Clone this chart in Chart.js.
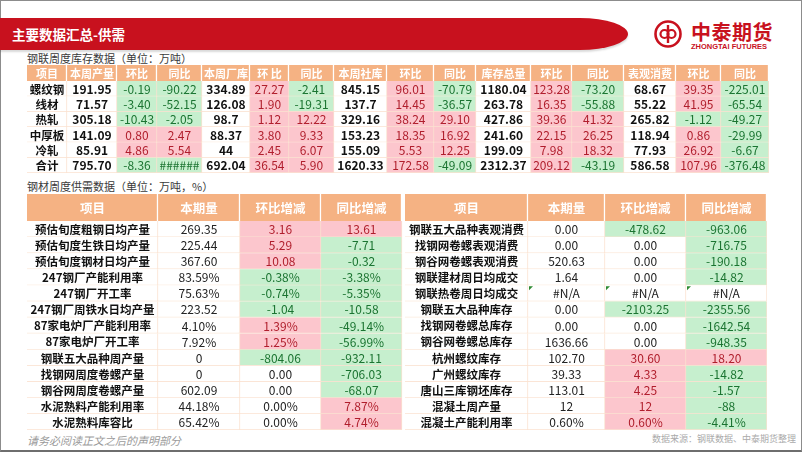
<!DOCTYPE html>
<html>
<head>
<meta charset="utf-8">
<script src="https://cdn.jsdelivr.net/npm/chart.js@4.4.1/dist/chart.umd.min.js"></script>
<style>
  body { margin: 0; width: 802px; height: 452px; position: relative; overflow: hidden; background: #fff;
         font-family: "Noto Sans CJK SC", sans-serif; }
  .frame { position: absolute; left: 0; top: 0; width: 800px; height: 449px; border: 1px solid #8c8c8c; border-bottom: 2px solid #6e6e6e; }
  .band { position: absolute; left: 0; top: 18px; width: 628px; height: 32px; background: #c8111e;
          border-radius: 0 48px 48px 0 / 0 16px 16px 0; box-shadow: 0 2px 2px rgba(0,0,0,0.15); }
  .band span { position: absolute; left: 12px; top: 0; line-height: 32px; color: #fff; font-weight: bold; font-size: 13.5px; }
  .logo { position: absolute; left: 654px; top: 20px; }
  .logo .cn { position: absolute; left: 37px; top: -3px; color: #c8111e; font-weight: bold; font-size: 20px; letter-spacing: 0.5px; white-space: nowrap; }
  .logo .en { position: absolute; left: 37px; top: 22px; color: #c8111e; font-weight: bold; font-size: 7.5px; font-family: "Liberation Sans", Arial, sans-serif; white-space: nowrap; }
  .sub { position: absolute; left: 27px; font-size: 11px; color: #3a3a3a; white-space: nowrap; }
  .foot { position: absolute; color: #9a9a9a; white-space: nowrap; }
  canvas { position: absolute; }
</style>
</head>
<body>
<div class="frame"></div>
<div class="band"><span>主要数据汇总-供需</span></div>
<div class="logo">
  <svg width="32" height="32" viewBox="0 0 32 32">
    <circle cx="14" cy="14" r="12.5" fill="none" stroke="#c8111e" stroke-width="2.6"/>
    <path d="M14 5 V23" stroke="#c8111e" stroke-width="2.4"/>
    <circle cx="10.5" cy="14" r="4" fill="none" stroke="#c8111e" stroke-width="2.2"/>
    <circle cx="17.5" cy="14" r="4" fill="none" stroke="#c8111e" stroke-width="2.2"/>
  </svg>
  <div class="cn">中泰期货</div>
  <div class="en">ZHONGTAI FUTURES</div>
</div>
<div class="sub" style="top:50px;">钢联周度库存数据（单位：万吨）</div>
<div class="sub" style="top:178px;">钢材周度供需数据（单位：万吨，%）</div>
<div class="foot" style="left:27px; top:432px; font-size:11px; font-style:italic;">请务必阅读正文之后的声明部分</div>
<div class="foot" style="left:652px; top:432px; font-size:9px; color:#aaa;">数据来源：钢联数据、中泰期货整理</div>

<canvas id="t1head" width="742" height="16" style="left:27px; top:65px;"></canvas>
<canvas id="t1body" width="742" height="92" style="left:27px; top:81px;"></canvas>
<canvas id="t2head" width="740" height="27" style="left:27px; top:194px;"></canvas>
<canvas id="t2body" width="740" height="209" style="left:27px; top:221px;"></canvas>

<script>
// 钢联周度库存数据
const t1Header = ['项目', '本周产量', '环比', '同比', '本周厂库', '环 比', '同比', '本周社库', '环比', '同比',
                  '库存总量', '环比', '同比', '表观消费', '环比', '同比'];
const t1Items = ['螺纹钢', '线材', '热轧', '中厚板', '冷轧', '合计'];
const t1Output = ['191.95', '71.57', '305.18', '141.09', '85.91', '795.70'];
const t1OutputHb = ['-0.19', '-3.40', '-10.43', '0.80', '4.86', '-8.36'];
const t1OutputTb = ['-90.22', '-52.15', '-2.05', '2.47', '5.54', '######'];
const t1Factory = ['334.89', '126.08', '98.7', '88.37', '44', '692.04'];
const t1FactoryHb = ['27.27', '1.90', '1.12', '3.80', '2.45', '36.54'];
const t1FactoryTb = ['-2.41', '-19.31', '12.22', '9.33', '6.07', '5.90'];
const t1Social = ['845.15', '137.7', '329.16', '153.23', '155.09', '1620.33'];
const t1SocialHb = ['96.01', '14.45', '38.24', '18.35', '5.53', '172.58'];
const t1SocialTb = ['-70.79', '-36.57', '29.10', '16.92', '12.25', '-49.09'];
const t1Total = ['1180.04', '263.78', '427.86', '241.60', '199.09', '2312.37'];
const t1TotalHb = ['123.28', '16.35', '39.36', '22.15', '7.98', '209.12'];
const t1TotalTb = ['-73.20', '-55.88', '41.32', '26.25', '18.32', '-43.19'];
const t1Consume = ['68.67', '55.22', '265.82', '118.94', '77.93', '586.58'];
const t1ConsumeHb = ['39.35', '41.95', '-1.12', '0.86', '26.92', '107.96'];
const t1ConsumeTb = ['-225.01', '-65.54', '-49.27', '-29.99', '-6.67', '-376.48'];

// 钢材周度供需数据
const t2Header = ['项目', '本期量', '环比增减', '同比增减'];
const t2LeftItems = ['预估旬度粗钢日均产量', '预估旬度生铁日均产量', '预估旬度钢材日均产量', '247钢厂产能利用率',
  '247钢厂开工率', '247钢厂周铁水日均产量', '87家电炉厂产能利用率', '87家电炉厂开工率', '钢联五大品种周产量',
  '找钢网周度卷螺产量', '钢谷网周度卷螺产量', '水泥熟料产能利用率', '水泥熟料库容比'];
const t2LeftNow = ['269.35', '225.44', '367.60', '83.59%', '75.63%', '223.52', '4.10%', '7.92%', '0', '0', '602.09', '44.18%', '65.42%'];
const t2LeftHb = ['3.16', '5.29', '10.08', '-0.38%', '-0.74%', '-1.04', '1.39%', '1.25%', '-804.06', '0.00', '0.00', '0.00%', '0.00%'];
const t2LeftTb = ['13.61', '-7.71', '-0.32', '-3.38%', '-5.35%', '-10.58', '-49.14%', '-56.99%', '-932.11', '-706.03', '-68.07', '7.87%', '4.74%'];
const t2RightItems = ['钢联五大品种表观消费', '找钢网卷螺表观消费', '钢谷网卷螺表观消费', '钢联建材周日均成交',
  '钢联热卷周日均成交', '钢联五大品种库存', '找钢网卷螺总库存', '钢谷网卷螺总库存', '杭州螺纹库存',
  '广州螺纹库存', '唐山三库钢坯库存', '混凝土周产量', '混凝土产能利用率'];
const t2RightNow = ['0.00', '0.00', '520.63', '1.64', '#N/A', '0.00', '0.00', '1636.66', '102.70', '39.33', '113.01', '12', '0.60%'];
const t2RightHb = ['-478.62', '0.00', '0.00', '0.00', '#N/A', '-2103.25', '0.00', '0.00', '30.60', '4.33', '4.25', '12', '0.60%'];
const t2RightTb = ['-963.06', '-716.75', '-190.18', '-14.82', '#N/A', '-2355.56', '-1642.54', '-948.35', '18.20', '-14.82', '-1.57', '-88', '-4.41%'];

const FONT = '"Noto Sans CJK SC", sans-serif';
const HEAD_FILL = '#f5b283';
const PINK = '#fcc6cd', PINK_TEXT = '#b01e2c';
const GREEN = '#c6efce', GREEN_TEXT = '#1b7431';

function sign(s) {
  if (s === '######' || s.startsWith('-')) return -1;
  const v = parseFloat(s);
  return isNaN(v) || v === 0 ? 0 : 1;
}

// column = { w, cells, kind }  kind: head | item | level | change | gap
function buildTable(id, labels, columns, st) {
  const total = columns.reduce((a, c) => a + c.w, 0);
  let edge = 0;
  const datasets = [];
  columns.forEach(col => {
    const x0 = edge;
    edge += col.w;
    if (col.kind === 'gap') return;
    const x1 = edge;
    datasets.push({
      data: col.cells.map(() => [x0, x1]),
      cells: col.cells,
      kind: col.kind,
      grouped: false,
      barPercentage: 1,
      categoryPercentage: 1,
      borderSkipped: false,
      borderWidth: col.kind === 'head' ? { right: 1.5 } : { right: 1, bottom: 1 },
      borderColor: col.kind === 'head' ? '#ffffff' : '#fbe2d0',
      backgroundColor: ctx => {
        if (col.kind === 'head') return HEAD_FILL;
        if (col.kind !== 'change') return '#ffffff';
        const sg = sign(col.cells[ctx.dataIndex]);
        return sg > 0 ? PINK : sg < 0 ? GREEN : '#ffffff';
      }
    });
  });

  const cellText = {
    id: 'cellText',
    afterDatasetsDraw(chart) {
      const g = chart.ctx;
      g.save();
      g.textAlign = 'center';
      g.textBaseline = 'middle';
      chart.data.datasets.forEach((ds, di) => {
        chart.getDatasetMeta(di).data.forEach((bar, i) => {
          const p = bar.getProps(['x', 'y', 'base', 'height'], true);
          const s = ds.cells[i];
          let color = st.levelColor, font = st.levelFont;
          if (ds.kind === 'head') { color = '#ffffff'; font = st.headFont; }
          else if (ds.kind === 'item') { color = '#111111'; font = st.itemFont; }
          else if (ds.kind === 'change') {
            const sg = sign(s);
            color = sg > 0 ? PINK_TEXT : sg < 0 ? GREEN_TEXT : st.levelColor;
            font = st.changeFont;
          }
          g.font = font;
          g.fillStyle = color;
          g.fillText(s, (p.x + p.base) / 2, p.y + 0.5);
          if (s === '#N/A') {
            const tx = Math.min(p.x, p.base) + 1, ty = p.y - p.height / 2 + 1;
            g.fillStyle = '#2e8b32';
            g.beginPath();
            g.moveTo(tx, ty); g.lineTo(tx + 4, ty); g.lineTo(tx, ty + 4); g.closePath();
            g.fill();
          }
        });
      });
      g.restore();
    }
  };

  return new Chart(document.getElementById(id), {
    type: 'bar',
    data: { labels, datasets },
    options: {
      indexAxis: 'y',
      responsive: false,
      animation: false,
      devicePixelRatio: 1,
      events: [],
      layout: { padding: 0 },
      plugins: { legend: { display: false }, tooltip: { enabled: false } },
      scales: {
        x: { type: 'linear', display: false, min: 0, max: total },
        y: { type: 'category', display: false, offset: true }
      }
    },
    plugins: [cellText]
  });
}

// 表1
const t1Widths = [40, 50, 40, 45, 48, 39, 45, 53, 47, 42, 55, 41, 52, 52, 45, 48];
const t1Body = [t1Items, t1Output, t1OutputHb, t1OutputTb, t1Factory, t1FactoryHb, t1FactoryTb,
  t1Social, t1SocialHb, t1SocialTb, t1Total, t1TotalHb, t1TotalTb, t1Consume, t1ConsumeHb, t1ConsumeTb];
const t1Kinds = ['item', 'level', 'change', 'change', 'level', 'change', 'change', 'level', 'change', 'change',
  'level', 'change', 'change', 'level', 'change', 'change'];
const t1Style = {
  headFont: 'bold 11px ' + FONT, itemFont: 'bold 11.5px ' + FONT,
  levelFont: 'bold 12px ' + FONT, levelColor: '#111111', changeFont: '12px ' + FONT
};
buildTable('t1head', ['header'], t1Header.map((h, c) => ({ w: t1Widths[c], cells: [h], kind: 'head' })), t1Style);
buildTable('t1body', t1Items, t1Body.map((cells, c) => ({ w: t1Widths[c], cells, kind: t1Kinds[c] })), t1Style);

// 表2
const t2Widths = [131, 82, 81, 81, 3, 123, 77, 81, 81];
const t2Body = [t2LeftItems, t2LeftNow, t2LeftHb, t2LeftTb, null, t2RightItems, t2RightNow, t2RightHb, t2RightTb];
const t2Kinds = ['item', 'level', 'change', 'change', 'gap', 'item', 'level', 'change', 'change'];
const t2HeadCells = [...t2Header, '', ...t2Header];
const t2Style = {
  headFont: 'bold 12.5px ' + FONT, itemFont: 'bold 11.5px ' + FONT,
  levelFont: '12px ' + FONT, levelColor: '#222222', changeFont: '12px ' + FONT
};
buildTable('t2head', ['header'], t2HeadCells.map((h, c) => ({
  w: t2Widths[c], cells: [h], kind: t2Kinds[c] === 'gap' ? 'gap' : 'head' })), t2Style);
buildTable('t2body', t2LeftItems, t2Body.map((cells, c) => ({
  w: t2Widths[c], cells: cells || [], kind: t2Kinds[c] })), t2Style);
</script>
</body>
</html>
